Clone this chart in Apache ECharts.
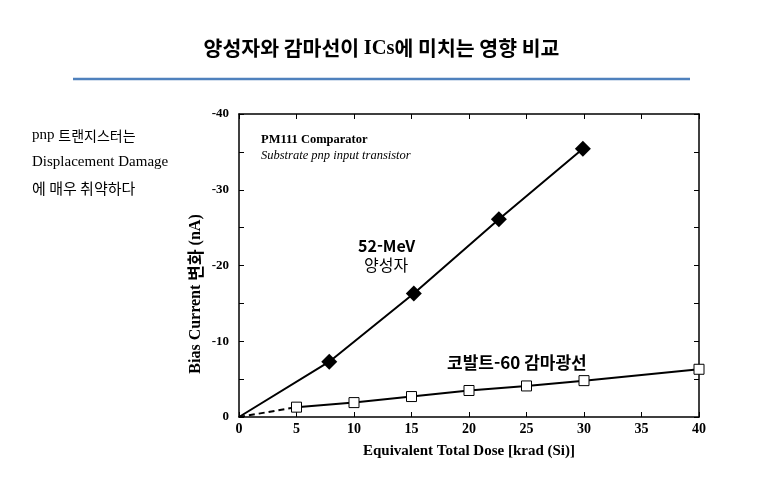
<!DOCTYPE html>
<html lang="ko">
<head>
  <meta charset="UTF-8">
  <script src="https://cdn.jsdelivr.net/npm/echarts@6/dist/echarts.min.js"></script>
  <title>양성자와 감마선이 ICs에 미치는 영향 비교</title>
  <style>
    * { margin: 0; padding: 0; }
    html, body { width: 100%; height: 100%; background: #fff; }
    #chartbox { width: 763px; height: 490px; }
  </style>
</head>
<body>
<div id="chartbox"></div>
<script>
  // 52-MeV 양성자 (dose [krad], delta bias current [nA])
  const protonDose = [7.85, 15.2, 22.6, 29.9]
  const protonCurrent = [-7.3, -16.3, -26.1, -35.4]
  // 코발트-60 감마광선
  const gammaDose = [5, 10, 15, 20, 25, 30, 40]
  const gammaCurrent = [-1.3, -1.9, -2.7, -3.5, -4.1, -4.8, -6.3]
  const doseTicks = [0, 5, 10, 15, 20, 25, 30, 35, 40]
  const currentTicks = [-40, -30, -20, -10, 0]

  const SERIF = '"Liberation Serif", "Times New Roman", serif'
  const KR = '"Noto Sans CJK KR", sans-serif'

  let myChart = echarts.init(document.getElementById('chartbox'), null, { renderer: 'canvas' })

  // 원점(0,0)에서 시작하는 선
  let protonData = [{ value: [0, 0], symbol: 'none' }]
  protonDose.forEach((d, i) => protonData.push([d, protonCurrent[i]]))
  let gammaData = gammaDose.map((d, i) => [d, gammaCurrent[i]])
  let gammaDash = [[0, 0], gammaData[0]]

  let tickStyle = { show: true, inside: true, length: 5, lineStyle: { color: '#000', width: 1 } }
  let lineStyle = { color: '#000', width: 1.5 }

  let option = {
    backgroundColor: '#fff',
    animation: false,
    title: {
      text: '{k|양성자와 감마선이 }{e|ICs}{k|에 미치는 영향 비교}',
      left: 'center',
      top: 33,
      textStyle: {
        rich: {
          k: { fontFamily: KR, fontWeight: 'bold', fontSize: 20.5, color: '#000' },
          e: { fontFamily: SERIF, fontWeight: 'bold', fontSize: 20.5, color: '#000' }
        }
      }
    },
    grid: { left: 239, right: 64, top: 114, bottom: 73 },
    xAxis: [{
      type: 'value',
      min: doseTicks[0],
      max: doseTicks[doseTicks.length - 1],
      interval: 5,
      name: 'Equivalent Total Dose [krad (Si)]',
      nameLocation: 'middle',
      nameGap: 27,
      nameTextStyle: { fontFamily: SERIF, fontWeight: 'bold', fontSize: 15, color: '#000' },
      axisLine: { show: true, onZero: false, lineStyle: lineStyle },
      axisTick: tickStyle,
      axisLabel: { fontFamily: SERIF, fontWeight: 'bold', fontSize: 14, color: '#000', margin: 5 },
      splitLine: { show: false }
    }, {
      type: 'value',
      position: 'top',
      min: doseTicks[0],
      max: doseTicks[doseTicks.length - 1],
      interval: 5,
      axisLine: { show: true, onZero: false, lineStyle: lineStyle },
      axisTick: tickStyle,
      axisLabel: { show: false },
      splitLine: { show: false }
    }],
    yAxis: [{
      type: 'value',
      inverse: true,
      min: currentTicks[0],
      max: currentTicks[currentTicks.length - 1],
      interval: 5,
      axisLine: { show: true, onZero: false, lineStyle: lineStyle },
      axisTick: tickStyle,
      axisLabel: {
        fontFamily: SERIF, fontWeight: 'bold', fontSize: 13, color: '#000', margin: 10,
        formatter: v => (currentTicks.indexOf(v) >= 0 ? String(v) : '')
      },
      splitLine: { show: false }
    }, {
      type: 'value',
      position: 'right',
      inverse: true,
      min: currentTicks[0],
      max: currentTicks[currentTicks.length - 1],
      interval: 5,
      axisLine: { show: true, onZero: false, lineStyle: lineStyle },
      axisTick: tickStyle,
      axisLabel: { show: false },
      splitLine: { show: false }
    }],
    graphic: [
      {
        type: 'line', shape: { x1: 73, y1: 79, x2: 690, y2: 79 },
        style: { stroke: '#4f81bd', lineWidth: 2.5 }
      },
      {
        // y축 이름 (축 가운데보다 조금 아래)
        type: 'text', x: 196, y: 294, rotation: Math.PI / 2,
        style: {
          text: '{a|Bias Current }{b|변화}{a| (nA)}',
          align: 'center', verticalAlign: 'middle',
          rich: {
            a: { fontFamily: SERIF, fontWeight: 'bold', fontSize: 16, fill: '#000' },
            b: { fontFamily: KR, fontWeight: 'bold', fontSize: 17, fill: '#000' }
          }
        }
      },
      {
        type: 'text', left: 32, top: 128,
        style: { text: '{a|pnp }{b|트랜지스터는}', rich: {
          a: { fontFamily: SERIF, fontSize: 15, fill: '#000' },
          b: { fontFamily: KR, fontSize: 14, fill: '#000' }
        } }
      },
      {
        type: 'text', left: 32, top: 155,
        style: { text: 'Displacement Damage', font: '15px ' + SERIF, fill: '#000' }
      },
      {
        type: 'text', left: 32, top: 181,
        style: { text: '에 매우 취약하다', font: '15px ' + KR, fill: '#000' }
      },
      {
        type: 'text', left: 261, top: 133,
        style: { text: 'PM111 Comparator', font: 'bold 12.5px ' + SERIF, fill: '#000' }
      },
      {
        type: 'text', left: 261, top: 149,
        style: { text: 'Substrate pnp input transistor', font: 'italic 12.5px ' + SERIF, fill: '#000' }
      },
      {
        type: 'text', left: 358, top: 238,
        style: { text: '52-MeV', font: 'bold 16px ' + KR, fill: '#000' }
      },
      {
        type: 'text', left: 364, top: 257,
        style: { text: '양성자', font: '16px ' + KR, fill: '#000' }
      },
      {
        type: 'text', left: 447, top: 354,
        style: { text: '코발트-60 감마광선', font: 'bold 17px ' + KR, fill: '#000' }
      }
    ],
    series: [
      {
        name: '52-MeV 양성자',
        type: 'line',
        data: protonData,
        symbol: 'diamond',
        symbolSize: 16,
        lineStyle: { color: '#000', width: 2 },
        itemStyle: { color: '#000' },
        z: 3
      },
      {
        name: 'gamma-dash',
        type: 'line',
        data: gammaDash,
        symbol: 'none',
        lineStyle: { color: '#000', width: 2, type: [6, 4] }
      },
      {
        name: '코발트-60 감마광선',
        type: 'line',
        data: gammaData,
        symbol: 'rect',
        symbolSize: 10,
        lineStyle: { color: '#000', width: 2 },
        itemStyle: { color: '#fff', borderColor: '#000', borderWidth: 1 },
        z: 3
      }
    ]
  }

  myChart.setOption(option)
</script>
</body>
</html>
